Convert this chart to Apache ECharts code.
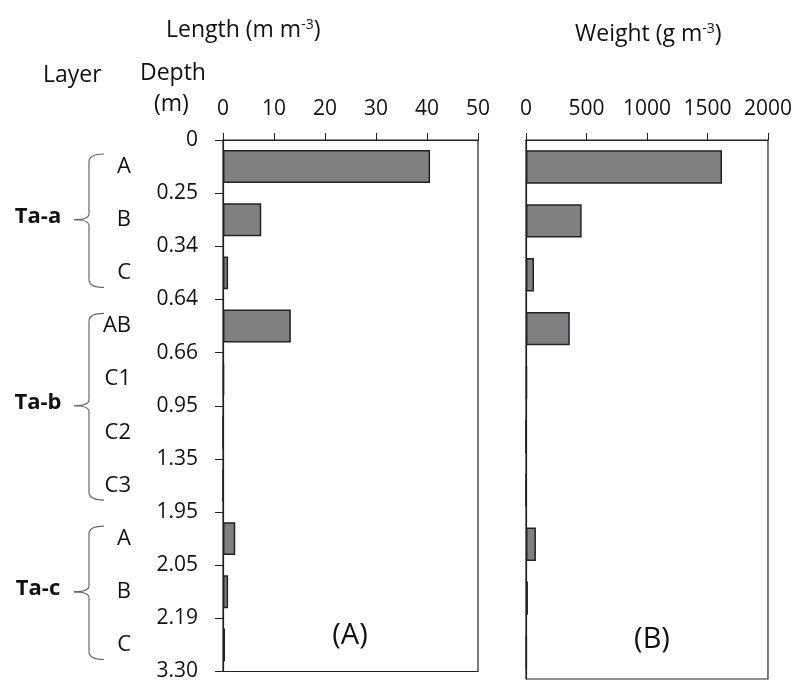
<!DOCTYPE html>
<html>
<head>
<meta charset="utf-8">
<script src="https://cdn.jsdelivr.net/npm/echarts@6/dist/echarts.min.js"></script>
<style>
html,body{margin:0;padding:0;background:#fff;}
#chart{width:795px;height:682px;}
</style>
</head>
<body>
<div id="chart"></div>
<script>
// ---- data ----
var layers = ['A', 'B', 'C', 'AB', 'C1', 'C2', 'C3', 'A', 'B', 'C'];
var depthLabels = ['0', '0.25', '0.34', '0.64', '0.66', '0.95', '1.35', '1.95', '2.05', '2.19', '3.30'];
var lengthValues = [40.6, 7.5, 1.0, 13.3, 0.2, 0, 0, 2.4, 1.0, 0.4];
var weightValues = [1620, 460, 66, 362, 8, 0, 0, 82, 16, 5];
var groupNames = ['Ta-a', 'Ta-b', 'Ta-c'];
var groupSizes = [3, 4, 3];
var lengthTicks = [0, 50, 10];
var weightTicks = [0, 2000, 500];

var FONT = 'Open Sans';
var FS = 21;
var TXT = '#111';
var LINE = '#222';

var chart = echarts.init(document.getElementById('chart'), null, {renderer: 'canvas'});

var barStyle = {color: '#808083', borderColor: '#222', borderWidth: 1.5};
var plain = function (v) { return String(v); };

var option = {
  backgroundColor: '#fff',
  animation: false,
  textStyle: {fontFamily: FONT},
  grid: [
    {left: 223, top: 140, width: 255, height: 537, show: true, borderColor: LINE, borderWidth: 1.2},
    {left: 526, top: 140, width: 242, height: 539, show: true, borderColor: LINE, borderWidth: 1.2}
  ],
  xAxis: [
    {gridIndex: 0, type: 'value', position: 'top', min: lengthTicks[0], max: lengthTicks[1], interval: lengthTicks[2],
     axisLine: {show: true, lineStyle: {color: LINE, width: 1.2}},
     axisTick: {show: true, inside: false, length: 7, lineStyle: {color: LINE}},
     axisLabel: {show: true, margin: 20, fontSize: FS, color: TXT, fontFamily: FONT, formatter: plain},
     splitLine: {show: false}},
    {gridIndex: 1, type: 'value', position: 'top', min: weightTicks[0], max: weightTicks[1], interval: weightTicks[2],
     axisLine: {show: true, lineStyle: {color: LINE, width: 1.2}},
     axisTick: {show: true, inside: false, length: 7, lineStyle: {color: LINE}},
     axisLabel: {show: true, margin: 20, fontSize: FS, color: TXT, fontFamily: FONT, formatter: plain},
     splitLine: {show: false}}
  ],
  yAxis: [
    {gridIndex: 0, type: 'category', data: layers, inverse: true, position: 'left', offset: 0,
     axisLine: {show: true, lineStyle: {color: LINE, width: 1.2}},
     axisTick: {show: true, inside: false, length: 8, alignWithLabel: false, lineStyle: {color: LINE}},
     axisLabel: {show: true, margin: 92, fontSize: 22, color: TXT, fontFamily: FONT, align: 'right'},
     splitLine: {show: false}},
    {gridIndex: 0, type: 'value', min: 0, max: depthLabels.length - 1, interval: 1, inverse: true, position: 'left', offset: 0,
     axisLine: {show: false}, axisTick: {show: false}, splitLine: {show: false},
     axisLabel: {show: true, margin: 25, fontSize: FS, color: TXT, fontFamily: FONT,
       formatter: function (v) { return depthLabels[Math.round(v)]; }}},
    {gridIndex: 1, type: 'category', data: layers, inverse: true, position: 'left',
     axisLine: {show: true, lineStyle: {color: LINE, width: 1.2}},
     axisTick: {show: false}, axisLabel: {show: false}, splitLine: {show: false}}
  ],
  series: [
    {type: 'bar', xAxisIndex: 0, yAxisIndex: 0, data: lengthValues, barCategoryGap: '38%', itemStyle: barStyle, silent: true},
    {type: 'bar', xAxisIndex: 1, yAxisIndex: 2, data: weightValues, barCategoryGap: '38%', itemStyle: barStyle, silent: true}
  ]
};
chart.setOption(option);

// ---- text labels and braces ----
var sup = {s: {fontSize: 14, fontFamily: FONT, fill: TXT, verticalAlign: 'top', padding: [0, 0, 10, 0]},
           n: {fontSize: 23, fontFamily: FONT, fill: TXT}};
var F = '23px "' + FONT + '"';
var graphics = [
  {type: 'text', x: 166, y: 30, style: {text: '{n|Length (m m}{s|-3}{n|)}', rich: sup, verticalAlign: 'middle', fill: TXT}},
  {type: 'text', x: 575, y: 34, style: {text: '{n|Weight (g m}{s|-3}{n|)}', rich: sup, verticalAlign: 'middle', fill: TXT}},
  {type: 'text', x: 43, y: 75, style: {text: 'Layer', font: F, fill: TXT, verticalAlign: 'middle'}},
  {type: 'text', x: 140, y: 73, style: {text: 'Depth', font: F, fill: TXT, verticalAlign: 'middle'}},
  {type: 'text', x: 154, y: 104, style: {text: '(m)', font: F, fill: TXT, verticalAlign: 'middle'}},
  {type: 'text', x: 350, y: 636, style: {text: '(A)', font: '29px "' + FONT + '"', fill: TXT, align: 'center', verticalAlign: 'middle'}},
  {type: 'text', x: 652, y: 640, style: {text: '(B)', font: '29px "' + FONT + '"', fill: TXT, align: 'center', verticalAlign: 'middle'}}
];
var braceStyle = {fill: 'none', stroke: '#666', lineWidth: 1.2};
var start = 0;
for (var g = 0; g < groupNames.length; g++) {
  var end = start + groupSizes[g];
  var y0 = chart.convertToPixel({yAxisIndex: 1}, start);
  var y1 = chart.convertToPixel({yAxisIndex: 1}, end);
  var yTop = y0 + 14, yBot = y1 - 12, yMid = (y0 + y1) / 2;
  var xv = 89, xr = 104, xc = 74;
  graphics.push({type: 'bezierCurve', shape: {x1: xr, y1: yTop, cpx1: xv, cpy1: yTop, x2: xv, y2: yTop + 8}, style: braceStyle});
  graphics.push({type: 'line', shape: {x1: xv, y1: yTop + 8, x2: xv, y2: yMid - 6}, style: braceStyle});
  graphics.push({type: 'bezierCurve', shape: {x1: xv, y1: yMid - 6, cpx1: xv, cpy1: yMid, x2: xc, y2: yMid}, style: braceStyle});
  graphics.push({type: 'bezierCurve', shape: {x1: xc, y1: yMid, cpx1: xv, cpy1: yMid, x2: xv, y2: yMid + 6}, style: braceStyle});
  graphics.push({type: 'line', shape: {x1: xv, y1: yMid + 6, x2: xv, y2: yBot - 8}, style: braceStyle});
  graphics.push({type: 'bezierCurve', shape: {x1: xv, y1: yBot - 8, cpx1: xv, cpy1: yBot, x2: xr, y2: yBot}, style: braceStyle});
  graphics.push({type: 'text', x: 38, y: yMid - 3, style: {text: groupNames[g], font: 'bold 22px "' + FONT + '"', fill: TXT, align: 'center', verticalAlign: 'middle'}});
  start = end;
}
chart.setOption({graphic: graphics});
</script>
</body>
</html>
